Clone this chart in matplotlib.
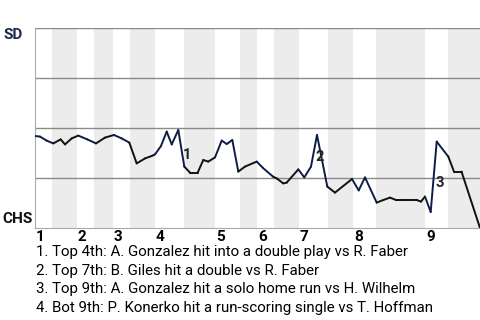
import matplotlib
matplotlib.use("Agg")
import matplotlib.pyplot as plt

plt.rcParams['font.family'] = ['Roboto', 'DejaVu Sans']

# progression du match (unites arbitraires) et probabilite de victoire de SD
progress = [0, 5, 11.7, 18.3, 25.7, 30, 36.7, 43.3, 52.3, 61, 70, 79, 86.7, 94.3,
            101.7, 110, 116.7, 120, 126, 131.7, 136.7, 143.3, 149.3, 155, 162.7,
            168.3, 173.3, 180, 186.7, 191.7, 197.3, 203.3, 210, 221.7, 228, 238,
            241.7, 248.3, 251.7, 263.3, 269.3, 276, 282, 292.3, 300, 317, 323.7,
            330, 341.7, 348.3, 355, 361, 371, 381.7, 386, 390, 395.7, 401.7,
            413.3, 419, 426.5, 445]
sd_wp = [0.46, 0.457, 0.437, 0.423, 0.443, 0.418, 0.448, 0.462, 0.443, 0.423,
         0.452, 0.465, 0.448, 0.427, 0.323, 0.348, 0.36, 0.368, 0.41, 0.482,
         0.418, 0.49, 0.307, 0.277, 0.277, 0.34, 0.332, 0.353, 0.437, 0.42,
         0.44, 0.282, 0.307, 0.332, 0.30, 0.257, 0.248, 0.223, 0.227, 0.293,
         0.253, 0.307, 0.465, 0.207, 0.177, 0.245, 0.188, 0.253, 0.127, 0.14,
         0.152, 0.14, 0.14, 0.14, 0.132, 0.157, 0.08, 0.432, 0.357, 0.282,
         0.282, 0.0]

# limites des demi-manches (haut = SD au baton, bas = CHS)
half_bounds = [0, 17, 42, 59, 78, 95, 120, 149, 180, 205, 222, 239, 264, 293,
               318, 341, 390, 413, 445]
innings = ['1', '2', '3', '4', '5', '6', '7', '8', '9']

# evenements marquants
event_labels = ['1', '2', '3']
event_x = [152, 285, 405]
event_y = [0.365, 0.355, 0.225]
notes = ["1. Top 4th: A. Gonzalez hit into a double play vs R. Faber",
         "2. Top 7th: B. Giles hit a double vs R. Faber",
         "3. Top 9th: A. Gonzalez hit a solo home run vs H. Wilhelm",
         "4. Bot 9th: P. Konerko hit a run-scoring single vs T. Hoffman"]

fig = plt.figure(figsize=(4.8, 3.2), dpi=100)
ax = fig.add_axes([35/480, 92/320, 445/480, 200/320])
ax.set_xlim(0, 445)
ax.set_ylim(0, 1)

# bandes grises pour les demi-manches du bas
for i in range(1, len(half_bounds) - 1, 2):
    ax.axvspan(half_bounds[i], half_bounds[i+1], color='#ececec', lw=0, zorder=0)

for yv in [0.25, 0.5, 0.75, 1.0]:
    ax.axhline(yv, color='#8a8a8a', lw=1, zorder=1)

# courbe, bleu marine quand SD frappe, noir sinon
for i in range(len(progress) - 1):
    mid = (progress[i] + progress[i+1]) / 2
    half = sum(1 for b in half_bounds[1:] if mid > b)
    col = '#0d1d45' if half % 2 == 0 else '#111111'
    ax.plot(progress[i:i+2], sd_wp[i:i+2], color=col, lw=1.4,
            solid_capstyle='round', zorder=3)

for lab, xe, ye in zip(event_labels, event_x, event_y):
    ax.text(xe, ye, lab, fontsize=10.5, fontweight='bold', color='#222222',
            ha='center', va='center', zorder=4)

for k, lab in enumerate(innings):
    ax.text(half_bounds[2*k] + 1, -0.045, lab, fontsize=11, fontweight='bold',
            ha='left', va='center', clip_on=False)

for s in ['top', 'right']:
    ax.spines[s].set_visible(False)
ax.spines['left'].set_color('#aaaaaa')
ax.spines['bottom'].set_color('#aaaaaa')
ax.set_xticks([])
ax.set_yticks([])

fig.text(4/480, 1 - 35/320, 'SD', fontsize=11, fontweight='bold', color='#1c2a48',
         va='center', ha='left')
fig.text(2/480, 1 - 219/320, 'CHS', fontsize=11, fontweight='bold', color='#111111',
         va='center', ha='left')

for k, n in enumerate(notes):
    fig.text(36/480, 1 - (252 + 18.7*k)/320, n, fontsize=10.8, va='center', ha='left')

fig.savefig('out.png', dpi=100)
